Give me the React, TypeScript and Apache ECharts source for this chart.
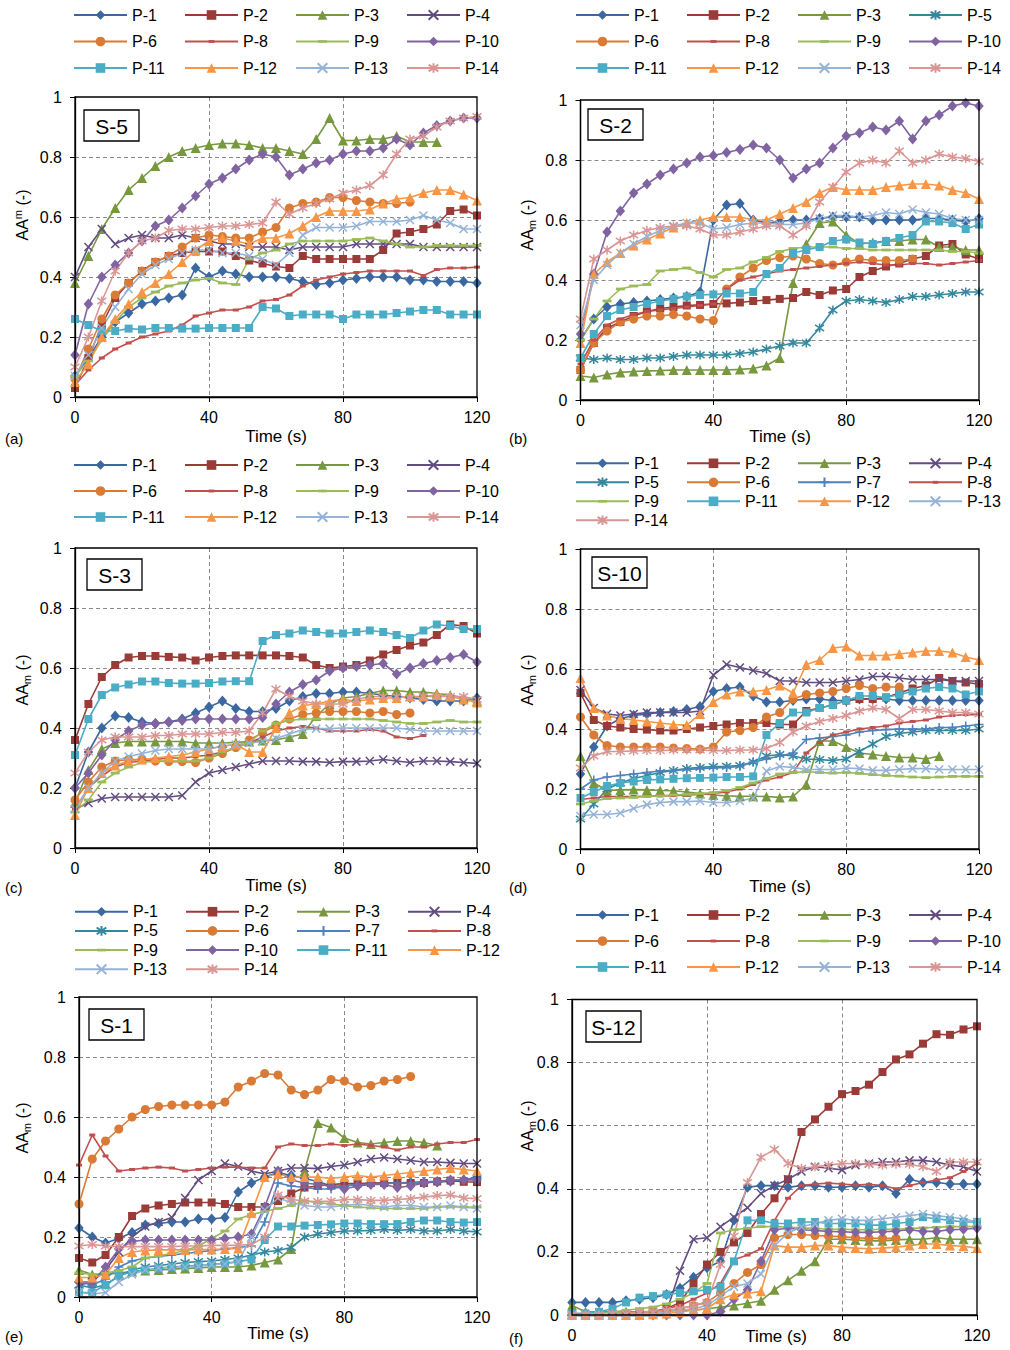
import React, { useEffect, useRef } from "react";
import * as echarts from "echarts";

const _ = null;
const FONT = "'Liberation Sans', Arial, Helvetica, sans-serif";

// time stamps (s)
const TIME = [0, 4, 8, 12, 16, 20, 24, 28, 32, 36, 40, 44, 48, 52, 56, 60, 64, 68, 72, 76, 80, 84, 88, 92, 96, 100, 104, 108, 112, 116, 120];
const X_TICKS = [0, 40, 80, 120];
const Y_TICKS = [0, 0.2, 0.4, 0.6, 0.8, 1];

// (a) S-5
const a1 = [.07,.13,.2,.25,.28,.31,.32,.33,.34,.43,.40,.42,.41,.40,.40,.40,.395,.385,.375,.38,.39,.395,.40,.40,.40,.39,.39,.385,.385,.385,.38];
const a2 = [.03,.13,.24,.33,.38,.42,.45,.47,.48,.485,.485,.485,.47,.455,.445,.435,.43,.47,.46,.46,.46,.46,.46,.49,.545,.55,.56,.575,.62,.625,.605];
const a3 = [.38,.47,.56,.63,.69,.73,.77,.80,.82,.83,.84,.845,.845,.84,.83,.83,.82,.81,.86,.93,.855,.855,.86,.86,.87,.85,.85,.85,_,_,_];
const a4 = [.40,.50,.56,.51,.53,.54,.53,.53,.54,.53,.52,.51,.51,.50,.50,.50,.49,.50,.50,.50,.50,.51,.51,.51,.51,.51,.50,.50,.50,.50,.50];
const a6 = [.06,.16,.26,.34,.38,.42,.45,.47,.50,.53,.54,.535,.53,.53,.55,.565,.63,.645,.65,.665,.665,.655,.65,.645,.645,.65,_,_,_,_,_];
const a8 = [.04,.09,.13,.16,.18,.20,.21,.22,.24,.27,.28,.29,.29,.30,.32,.325,.34,.37,.39,.40,.41,.415,.42,.42,.42,.42,.405,.425,.43,.43,.433];
const a9 = [.07,.12,.19,.25,.30,.33,.35,.37,.38,.39,.395,.38,.375,.46,.48,.49,.51,.52,.52,.52,.52,.525,.53,.52,.51,.50,.50,.505,.505,.505,.505];
const a10 = [.14,.31,.40,.44,.48,.52,.57,.59,.63,.67,.71,.73,.76,.79,.81,.80,.74,.76,.78,.79,.81,.82,.82,.83,.86,.84,.88,.905,.92,.93,.93];
const a11 = [.26,.24,.22,.22,.228,.225,.23,.23,.228,.228,.23,.23,.23,.23,.30,.295,.27,.275,.275,.275,.26,.275,.275,.275,.28,.285,.29,.29,.275,.275,.275];
const a12 = [.05,.11,.20,.26,.31,.35,.38,.41,.45,.49,.52,.53,.52,.51,.53,.53,.545,.57,.60,.62,.62,.62,.625,.645,.66,.665,.68,.69,.69,.675,.655];
const a13 = [.07,.14,.23,.30,.36,.41,.44,.46,.48,.49,.49,.48,.48,.47,.46,.44,.48,.54,.565,.565,.565,.57,.585,.585,.585,.59,.605,.59,.58,.56,.56];
const a14 = [.10,.20,.32,.42,.48,.52,.53,.555,.56,.56,.565,.57,.57,.575,.58,.65,.61,.63,.645,.66,.68,.69,.705,.74,.81,.86,.87,.90,.92,.93,.935];

// (b) S-2
const b1 = [.20,.27,.31,.32,.325,.33,.335,.34,.345,.36,.60,.65,.655,.60,.59,.595,.60,.60,.605,.61,.61,.61,.60,.60,.60,.60,.605,.605,.60,.595,.605];
const b2 = [.10,.19,.24,.26,.28,.295,.305,.31,.315,.317,.32,.322,.325,.33,.333,.337,.34,.36,.35,.365,.37,.41,.43,.445,.455,.47,.48,.515,.52,.485,.47];
const b3 = [.08,.075,.085,.092,.095,.097,.098,.10,.10,.10,.10,.10,.102,.105,.115,.14,.39,.52,.59,.595,.55,.52,.525,.53,.53,.535,.535,.51,.51,.50,.50];
const b5 = [.14,.135,.14,.135,.135,.14,.14,.145,.15,.15,.15,.15,.155,.16,.17,.18,.19,.19,.24,.30,.33,.335,.33,.325,.335,.345,.345,.35,.355,.36,.36];
const b6 = [.10,.19,.23,.26,.27,.28,.28,.285,.28,.27,.265,.37,.41,.44,.465,.475,.48,.47,.455,.45,.46,.47,.465,.465,.465,.47,_,_,_,_,_];
const b8 = [.12,.20,.25,.27,.285,.295,.30,.305,.31,.315,.32,.37,.40,.41,.42,.43,.435,.44,.445,.45,.455,.46,.455,.45,.45,.455,.455,.45,.455,.46,.465];
const b9 = [.20,.27,.33,.37,.38,.385,.43,.435,.44,.425,.41,.435,.44,.46,.475,.495,.505,.51,.51,.51,.505,.505,.50,.50,.50,.50,.50,.50,.495,.495,.49];
const b10 = [.22,.42,.56,.63,.69,.72,.75,.77,.79,.81,.815,.825,.835,.85,.84,.80,.74,.77,.79,.84,.88,.89,.91,.90,.93,.87,.93,.95,.98,.99,.98];
const b11 = [.14,.22,.28,.30,.31,.32,.33,.337,.345,.35,.352,.355,.355,.36,.42,.44,.49,.50,.51,.53,.535,.525,.52,.53,.54,.55,.595,.595,.59,.57,.585];
const b12 = [.19,.42,.46,.49,.515,.535,.555,.575,.59,.60,.61,.61,.61,.60,.60,.62,.64,.66,.69,.71,.70,.70,.70,.71,.715,.72,.72,.715,.70,.69,.67];
const b13 = [.25,.40,.45,.49,.52,.545,.565,.58,.59,.59,.57,.575,.585,.59,.59,.585,.585,.59,.605,.615,.615,.61,.615,.625,.62,.635,.625,.62,.605,.60,.60];
const b14 = [.27,.47,.50,.53,.55,.565,.575,.58,.58,.57,.55,.55,.56,.57,.58,.58,.55,.58,.66,.71,.76,.79,.80,.79,.83,.79,.80,.82,.81,.805,.795];

// (c) S-3
const c1 = [.20,.32,.40,.44,.435,.42,.415,.42,.43,.45,.47,.49,.465,.455,.455,.465,.49,.505,.515,.515,.52,.52,.515,.51,.505,.50,.495,.49,.49,.49,.50];
const c2 = [.36,.48,.57,.61,.635,.64,.64,.637,.635,.625,.635,.64,.642,.642,.642,.642,.64,.635,.61,.60,.605,.61,.625,.645,.66,.675,.685,.71,.745,.74,.715];
const c3 = [.15,.26,.33,.35,.355,.355,.355,.355,.355,.35,.35,.35,.352,.355,.358,.36,.37,.38,.44,.48,.50,.505,.515,.525,.525,.52,.52,.515,.51,.50,.49];
const c4 = [.13,.15,.165,.17,.17,.17,.17,.17,.175,.22,.25,.26,.27,.28,.29,.29,.29,.288,.288,.285,.288,.288,.29,.295,.29,.285,.29,.29,.288,.285,.282];
const c6 = [.16,.22,.27,.29,.295,.295,.29,.288,.288,.285,.30,.315,.335,.36,.385,.41,.43,.445,.45,.455,.455,.455,.45,.455,.445,.45,_,_,_,_,_];
const c8 = [.13,.20,.24,.27,.285,.29,.295,.30,.30,.305,.31,.32,.335,.35,.37,.39,.40,.405,.40,.39,.39,.39,.395,.39,.37,.365,.375,_,_,_,_];
const c9 = [.12,.16,.22,.25,.27,.285,.29,.29,.29,.29,.30,.32,.335,.35,.39,.415,.425,.43,.43,.43,.43,.43,.43,.425,.42,.415,.415,.42,.425,.42,.42];
const c10 = [.20,.25,.31,.36,.39,.41,.415,.42,.425,.43,.43,.43,.43,.43,.435,.48,.52,.545,.56,.59,.60,.605,.61,.615,.58,.60,.615,.625,.635,.645,.62];
const c11 = [.31,.43,.51,.535,.545,.555,.555,.55,.548,.548,.55,.555,.556,.556,.69,.71,.715,.725,.72,.715,.715,.72,.725,.72,.71,.70,.725,.745,.74,.73,.73];
const c12 = [.11,.20,.25,.275,.29,.295,.30,.305,.31,.32,.33,.34,.345,.32,.32,.40,.45,.475,.48,.49,.495,.49,.495,.50,.50,.505,.505,.51,.505,.495,.485];
const c13 = [.13,.20,.25,.29,.305,.315,.325,.33,.33,.33,.33,.34,.345,.35,.355,.365,.38,.395,.398,.398,.40,.40,.40,.40,.40,.395,.39,.39,.39,.39,.39];
const c14 = [.25,.32,.36,.37,.37,.37,.375,.375,.38,.38,.38,.385,.385,.39,.45,.53,.505,.49,.48,.48,.48,.495,.505,.505,.505,.50,.505,.505,.505,.505,.495];

// (d) S-10
const d1 = [.25,.34,.41,.435,.445,.45,.455,.458,.465,.475,.525,.535,.54,.51,.49,.49,.495,.50,.50,.495,.495,.50,.50,.50,.495,.495,.495,.495,.495,.495,.495];
const d2 = [.52,.43,.41,.405,.40,.398,.395,.395,.40,.405,.41,.415,.42,.42,.42,.415,.415,.46,.47,.48,.495,.50,.50,.505,.52,.535,.545,.57,.56,.555,.55];
const d3 = [.31,.22,.195,.197,.198,.197,.195,.194,.19,.185,.18,.177,.176,.176,.175,.172,.175,.215,.36,.36,.34,.32,.315,.31,.305,.305,.30,.31,_,_,_];
const d4 = [.53,.47,.45,.445,.45,.455,.455,.455,.455,.46,.58,.615,.605,.595,.585,.56,.56,.555,.555,.555,.56,.565,.575,.575,.57,.565,.565,.565,.56,.56,.56];
const d5 = [.10,.15,.20,.22,.235,.245,.255,.262,.268,.272,.275,.276,.278,.29,.31,.315,.31,.30,.298,.295,.30,.325,.35,.375,.385,.39,.395,.395,.395,.395,.40];
const d6 = [.44,.38,.345,.34,.34,.34,.34,.337,.335,.333,.34,.39,.395,.405,.44,.455,.50,.515,.52,.525,.535,.545,.535,.54,.54,_,_,_,_,_,_];
const d7 = [.20,.23,.24,.245,.25,.255,.26,.262,.265,.268,.27,.272,.275,.29,.30,.31,.32,.365,.37,.375,.38,.39,.395,.398,.40,.40,.40,.405,.405,.41,.415];
const d8 = [.165,.17,.175,.175,.175,.176,.177,.178,.18,.182,.185,.19,.20,.215,.23,.24,.255,.32,.355,.38,.39,.40,.405,.41,.42,.425,.43,.44,.445,.448,.448];
const d9 = [.15,.16,.168,.17,.172,.175,.177,.18,.182,.185,.188,.195,.205,.22,.235,.25,.255,.258,.255,.253,.255,.252,.248,.245,.243,.24,.238,.24,.242,.242,.242];
const d11 = [.17,.19,.21,.22,.225,.23,.232,.234,.236,.237,.238,.24,.24,.242,.38,.42,.455,.455,.47,.48,.495,.51,.51,.505,.515,.525,.535,.54,.535,.515,.525];
const d12 = [.57,.47,.445,.435,.43,.425,.42,.415,.413,.45,.49,.515,.525,.525,.53,.545,.52,.615,.63,.67,.675,.645,.645,.645,.65,.655,.66,.66,.655,.64,.63];
const d13 = [.11,.115,.115,.12,.135,.148,.155,.158,.158,.16,.155,.155,.16,.17,.26,.275,.272,.265,.265,.265,.27,.268,.262,.262,.265,.268,.268,.265,.265,.265,.265];
const d14 = [.27,.31,.325,.325,.327,.328,.328,.33,.33,.33,.328,.328,.33,.33,.335,.355,.39,.41,.425,.435,.445,.46,.47,.465,.435,.465,.465,.46,.455,.455,.45];

// (e) S-1
const e1 = [.23,.20,.18,.195,.215,.24,.245,.25,.25,.26,.26,.265,.35,.38,.40,.415,.405,.395,.385,.37,.37,.375,.378,.38,.38,.382,.382,.383,.386,.39,.40];
const e2 = [.13,.115,.14,.20,.27,.295,.305,.31,.315,.315,.315,.31,.30,.30,.30,.32,.345,.365,.37,.375,.378,.378,.38,.38,.38,.38,.38,.385,.388,.384,.383];
const e3 = [.09,.075,.075,.08,.085,.088,.09,.093,.095,.097,.10,.10,.10,.105,.115,.125,.16,.42,.58,.565,.53,.515,.51,.515,.52,.52,.515,.505,_,_,_];
const e4 = [.04,.05,.09,.15,.20,.235,.25,.265,.33,.39,.42,.445,.435,.42,.41,.42,.43,.43,.428,.435,.44,.45,.46,.465,.46,.455,.45,.45,.447,.445,.445];
const e5 = [.04,.03,.04,.07,.09,.10,.105,.11,.115,.118,.12,.125,.13,.14,.15,.155,.165,.20,.21,.215,.22,.22,.222,.225,.222,.225,.22,.22,.225,.22,.217];
const e6 = [.31,.46,.52,.56,.60,.625,.635,.64,.64,.64,.64,.65,.70,.72,.745,.74,.69,.675,.69,.725,.72,.70,.705,.72,.725,.735,_,_,_,_,_];
const e7 = [.05,.04,.06,.10,.12,.13,.135,.14,.145,.15,.155,.16,.165,.17,.25,.38,.37,.365,.36,.36,.37,.375,.375,.378,.38,.38,.385,.385,.39,.39,.395];
const e8 = [.44,.54,.47,.42,.425,.43,.433,.43,.42,.425,.43,.433,.433,.43,.43,.50,.51,.505,.505,.51,.505,.51,.505,.50,.49,.50,.50,.51,.515,.515,.525];
const e9 = [.08,.075,.08,.088,.10,.13,.137,.145,.155,.17,.195,.22,.26,.275,.285,.295,.305,.32,.315,.31,.305,.30,.297,.295,.295,.295,.295,.30,.30,.30,.30];
const e10 = [.05,.05,.10,.16,.185,.19,.19,.19,.19,.19,.19,.195,.20,.21,.30,.42,.39,.38,.375,.37,.36,.37,.375,.375,.365,.37,.38,.385,.39,.39,.39];
const e11 = [.015,.015,.04,.07,.085,.09,.095,.10,.103,.105,.108,.112,.118,.125,.19,.235,.235,.238,.24,.242,.245,.245,.243,.243,.243,.25,.255,.255,.25,.248,.25];
const e12 = [.065,.065,.075,.13,.15,.155,.157,.157,.157,.158,.158,.16,.162,.28,.40,.41,.40,.40,.40,.395,.40,.405,.40,.405,.41,.415,.42,.425,.43,.425,.42];
const e13 = [.015,.01,.015,.05,.075,.09,.097,.10,.10,.103,.108,.11,.118,.20,.29,.33,.315,.305,.30,.30,.305,.31,.305,.30,.305,.305,.30,.30,.305,.30,.295];
const e14 = [.17,.175,.17,.168,.168,.168,.168,.168,.17,.17,.172,.172,.173,.175,.20,.34,.325,.32,.318,.32,.325,.325,.322,.322,.325,.328,.333,.338,.34,.33,.328];

// (f) S-12
const f1 = [.04,.04,.04,.04,.045,.05,.055,.065,.085,.12,.15,.17,.30,.405,.41,.41,.405,.41,.41,.405,.405,.41,.405,.41,.385,.43,.42,.42,.415,.415,.415];
const f2 = [0,0,0,0,.005,.01,.01,.02,.04,.10,.16,.20,.23,.26,.32,.37,.43,.58,.62,.66,.70,.71,.73,.77,.81,.826,.86,.89,.888,.905,.915];
const f3 = [.03,.01,.01,.01,.01,.01,.012,.015,.015,.015,.02,.025,.03,.037,.045,.08,.11,.14,.17,.24,.24,.238,.235,.235,.238,.24,.24,.245,.24,.24,.24];
const f4 = [0,0,0,0,0,0,.005,.01,.14,.24,.245,.28,.31,.34,.385,.41,.43,.455,.47,.465,.46,.475,.48,.485,.485,.49,.49,.485,.475,.47,.455];
const f6 = [0,0,0,0,.005,.005,.01,.015,.02,.03,.04,.07,.10,.135,.16,.245,.255,.255,.252,.25,.248,.245,.243,.243,.243,_,_,_,_,_,_];
const f8 = [0,0,0,0,0,.005,.01,.02,.03,.05,.07,.10,.175,.19,.21,.30,.37,.41,.415,.418,.415,.412,.414,.41,.40,.41,.42,.428,.435,.455,.48];
const f9 = [0,0,.005,.01,.015,.02,.025,.035,.05,.07,.10,.26,.27,.275,.28,.28,.278,.276,.274,.272,.272,.27,.27,.272,.272,.274,.276,.278,.28,.28,.28];
const f10 = [0,0,0,0,0,0,0,0,0,0,0,.01,.05,.08,.17,.27,.275,.27,.268,.265,.264,.262,.262,.264,.266,.27,.265,.265,.27,.272,.275];
const f11 = [.005,.005,.01,.02,.04,.055,.06,.065,.07,.075,.08,.09,.17,.30,.30,.29,.29,.295,.295,.29,.29,.29,.285,.285,.29,.295,.31,.305,.30,.295,.295];
const f12 = [0,0,0,0,0,0,.002,.005,.01,.015,.02,.05,.065,.068,.075,.22,.215,.215,.22,.22,.215,.212,.21,.212,.215,.22,.225,.225,.22,.218,.212];
const f13 = [0,0,0,0,.002,.005,.005,.01,.015,.02,.03,.06,.09,.10,.13,.22,.26,.28,.29,.30,.305,.30,.30,.305,.31,.315,.32,.315,.31,.305,.295];
const f14 = [0,0,0,.005,.005,.01,.01,.015,.02,.03,.04,.16,.25,.42,.50,.525,.48,.465,.47,.475,.48,.48,.478,.475,.478,.478,.47,.455,.485,.485,.485];

const PANEL_NAMES = ["S-5", "S-2", "S-3", "S-10", "S-1", "S-12"];
const PANEL_LETTERS = ["(a)", "(b)", "(c)", "(d)", "(e)", "(f)"];
const PANEL_SERIES: [string, (number | null)[]][][] = [
  [["P-1", a1], ["P-2", a2], ["P-3", a3], ["P-4", a4], ["P-6", a6], ["P-8", a8], ["P-9", a9], ["P-10", a10], ["P-11", a11], ["P-12", a12], ["P-13", a13], ["P-14", a14]],
  [["P-1", b1], ["P-2", b2], ["P-3", b3], ["P-5", b5], ["P-6", b6], ["P-8", b8], ["P-9", b9], ["P-10", b10], ["P-11", b11], ["P-12", b12], ["P-13", b13], ["P-14", b14]],
  [["P-1", c1], ["P-2", c2], ["P-3", c3], ["P-4", c4], ["P-6", c6], ["P-8", c8], ["P-9", c9], ["P-10", c10], ["P-11", c11], ["P-12", c12], ["P-13", c13], ["P-14", c14]],
  [["P-1", d1], ["P-2", d2], ["P-3", d3], ["P-4", d4], ["P-5", d5], ["P-6", d6], ["P-7", d7], ["P-8", d8], ["P-9", d9], ["P-11", d11], ["P-12", d12], ["P-13", d13], ["P-14", d14]],
  [["P-1", e1], ["P-2", e2], ["P-3", e3], ["P-4", e4], ["P-5", e5], ["P-6", e6], ["P-7", e7], ["P-8", e8], ["P-9", e9], ["P-10", e10], ["P-11", e11], ["P-12", e12], ["P-13", e13], ["P-14", e14]],
  [["P-1", f1], ["P-2", f2], ["P-3", f3], ["P-4", f4], ["P-6", f6], ["P-8", f8], ["P-9", f9], ["P-10", f10], ["P-11", f11], ["P-12", f12], ["P-13", f13], ["P-14", f14]],
];

// ---- layout (pixels) ----
const LAYOUT = [
  { grid: [75, 97, 402, 300], legend: [73, 13, 26.5], box: [84, 110], yTitle: [22, 215], sup: true, time: [276, 436], letter: [5, 438] },
  { grid: [580.5, 100, 398.5, 300], legend: [575, 13, 26.5], box: [588, 109], yTitle: [527, 225], sup: false, time: [780, 436], letter: [509, 438] },
  { grid: [75, 548, 402, 300], legend: [73, 463, 26], box: [87, 559], yTitle: [22, 680], sup: false, time: [276, 885], letter: [5, 887] },
  { grid: [580.5, 549, 398.5, 300], legend: [575, 461.3, 19], box: [592, 557], yTitle: [527, 680], sup: false, time: [780, 886], letter: [509, 887] },
  { grid: [79, 997, 398, 300], legend: [74, 909.7, 19.2], box: [89, 1009], yTitle: [22, 1128], sup: false, time: [278, 1333], letter: [5, 1336] },
  { grid: [572, 999.5, 405, 315.5], legend: [575, 913, 26], box: [586, 1011], yTitle: [527, 1126], sup: false, time: [776, 1336], letter: [509, 1338] },
];

const X_PATH = "path://M0,0L10,10M10,0L0,10";
const STAR_PATH = "path://M1,1.5L9,8.5M9,1.5L1,8.5M5,0L5,10";
const PLUS_PATH = "path://M5,0L5,10M0,5L10,5";
const DASH_S = "path://M0,0M10,10M2,3.5L8,3.5L8,6.5L2,6.5Z";
const DASH_L = "path://M0,0M10,10M0.5,3.6L9.5,3.6L9.5,6.4L0.5,6.4Z";

const STYLE: Record<string, { color: string; symbol: string; size: number | number[]; stroke?: boolean }> = {
  "P-1": { color: "#3B68A0", symbol: "diamond", size: [9.5, 11] },
  "P-2": { color: "#9A3B38", symbol: "rect", size: 8 },
  "P-3": { color: "#77983F", symbol: "triangle", size: 10 },
  "P-4": { color: "#624C80", symbol: X_PATH, size: 8, stroke: true },
  "P-5": { color: "#34879D", symbol: STAR_PATH, size: 9, stroke: true },
  "P-6": { color: "#D97B35", symbol: "circle", size: 9 },
  "P-7": { color: "#4F81BD", symbol: PLUS_PATH, size: 9, stroke: true },
  "P-8": { color: "#C0504D", symbol: DASH_S, size: 10 },
  "P-9": { color: "#9BBB59", symbol: DASH_L, size: 10 },
  "P-10": { color: "#8064A2", symbol: "diamond", size: [9.5, 11] },
  "P-11": { color: "#4BACC6", symbol: "rect", size: 8 },
  "P-12": { color: "#F79646", symbol: "triangle", size: 10 },
  "P-13": { color: "#95B3D7", symbol: X_PATH, size: 8, stroke: true },
  "P-14": { color: "#D99694", symbol: STAR_PATH, size: 9, stroke: true },
};

function buildOption() {
  const grids: any[] = [];
  const xAxes: any[] = [];
  const yAxes: any[] = [];
  const series: any[] = [];
  const legends: any[] = [];
  const graphics: any[] = [];

  PANEL_SERIES.forEach((list, i) => {
    const L = LAYOUT[i];
    const [gl, gt, gw, gh] = L.grid;
    grids.push({ left: gl, top: gt, width: gw, height: gh, show: false });
    const splitStyle = { show: true, showMinLine: false, showMaxLine: false, lineStyle: { color: "#8a8a8a", type: [4, 3], width: 1 } };
    xAxes.push({
      gridIndex: i, type: "value", min: X_TICKS[0], max: X_TICKS[X_TICKS.length - 1], interval: X_TICKS[1] - X_TICKS[0],
      axisLine: { show: true, onZero: false, lineStyle: { color: "#000", width: 1.3 } },
      axisTick: { show: true, length: 5, lineStyle: { color: "#000", width: 1 } },
      axisLabel: { fontSize: 16, color: "#000", margin: 12, fontFamily: FONT },
      splitLine: splitStyle,
    });
    yAxes.push({
      gridIndex: i, type: "value", min: Y_TICKS[0], max: Y_TICKS[Y_TICKS.length - 1], interval: Y_TICKS[1] - Y_TICKS[0],
      axisLine: { show: true, onZero: false, lineStyle: { color: "#000", width: 1.3 } },
      axisTick: { show: true, length: 5, lineStyle: { color: "#000", width: 1 } },
      axisLabel: {
        fontSize: 16, color: "#000", margin: 13, fontFamily: FONT,
        formatter: (v: number) => (v === 0 ? "0" : v === 1 ? "1" : v.toFixed(1)),
      },
      splitLine: splitStyle,
    });

    list.forEach(([name, vals], k) => {
      const st = STYLE[name];
      series.push({
        type: "line",
        name,
        xAxisIndex: i,
        yAxisIndex: i,
        data: TIME.map((t, j) => [t, vals[j]]).filter((d) => d[1] !== null),
        symbol: st.symbol,
        symbolSize: st.size,
        showSymbol: true,
        clip: false,
        lineStyle: { color: st.color, width: 1.6 },
        itemStyle: { color: st.color, borderColor: st.color, borderWidth: st.stroke ? 1.5 : 0 },
        emphasis: { disabled: true },
        silent: true,
        animation: false,
      });
      const [lx, ly, ldy] = L.legend;
      legends.push({
        left: lx + (k % 4) * 111,
        top: ly + Math.floor(k / 4) * ldy - 6,
        data: [name],
        itemWidth: 53,
        itemHeight: 12,
        padding: 0,
        selectedMode: false,
        textStyle: { fontSize: 16, color: "#000", fontFamily: FONT, lineHeight: 12 },
      });
    });

    // border box
    graphics.push({
      type: "rect", silent: true, z: 100,
      shape: { x: gl, y: gt, width: gw, height: gh },
      style: { fill: "none", stroke: "#000", lineWidth: 1.3 },
    });
    // S label box
    graphics.push({
      type: "rect", silent: true, z: 101,
      shape: { x: L.box[0], y: L.box[1], width: 55, height: 31 },
      style: { fill: "#fff", stroke: "#000", lineWidth: 1.3 },
    });
    graphics.push({
      type: "text", silent: true, z: 102, x: L.box[0] + 27.5, y: L.box[1] + 16,
      style: { text: PANEL_NAMES[i], fontSize: 21, fontFamily: FONT, fill: "#000", align: "center", verticalAlign: "middle", textAlign: "center", textVerticalAlign: "middle" },
    });
    // y title
    graphics.push({
      type: "text", silent: true, z: 102, x: L.yTitle[0], y: L.yTitle[1], rotation: Math.PI / 2,
      style: {
        text: L.sup ? "{a|AA}{p|m}{a| (-)}" : "{a|AA}{b|m}{a| (-)}",
        align: "center", verticalAlign: "middle", textAlign: "center", textVerticalAlign: "middle",
        rich: {
          a: { fontSize: 16, fontFamily: FONT, fill: "#000", lineHeight: 20 },
          b: { fontSize: 11, fontFamily: FONT, fill: "#000", lineHeight: 11, verticalAlign: "bottom" },
          p: { fontSize: 11, fontFamily: FONT, fill: "#000", lineHeight: 11, verticalAlign: "top" },
        },
      },
    });
    // x title
    graphics.push({
      type: "text", silent: true, z: 102, x: L.time[0], y: L.time[1],
      style: { text: "Time (s)", fontSize: 17, fontFamily: FONT, fill: "#000", align: "center", verticalAlign: "middle", textAlign: "center", textVerticalAlign: "middle" },
    });
    // panel letter
    graphics.push({
      type: "text", silent: true, z: 102, x: L.letter[0], y: L.letter[1],
      style: { text: PANEL_LETTERS[i], fontSize: 15, fontFamily: FONT, fill: "#000", align: "left", verticalAlign: "middle", textAlign: "left", textVerticalAlign: "middle" },
    });
  });

  return {
    animation: false,
    backgroundColor: "#fff",
    textStyle: { fontFamily: FONT },
    grid: grids,
    xAxis: xAxes,
    yAxis: yAxes,
    legend: legends,
    series,
    graphic: { elements: graphics },
  };
}

export default function App() {
  const ref = useRef<HTMLDivElement>(null);
  useEffect(() => {
    if (!ref.current) return;
    const chart = echarts.init(ref.current, null, { renderer: "svg" });
    chart.setOption(buildOption() as any);
    return () => chart.dispose();
  }, []);
  return (
    <div
      ref={ref}
      style={{ position: "absolute", left: 0, top: 0, width: 1010, height: 1350, background: "#fff" }}
    />
  );
}
